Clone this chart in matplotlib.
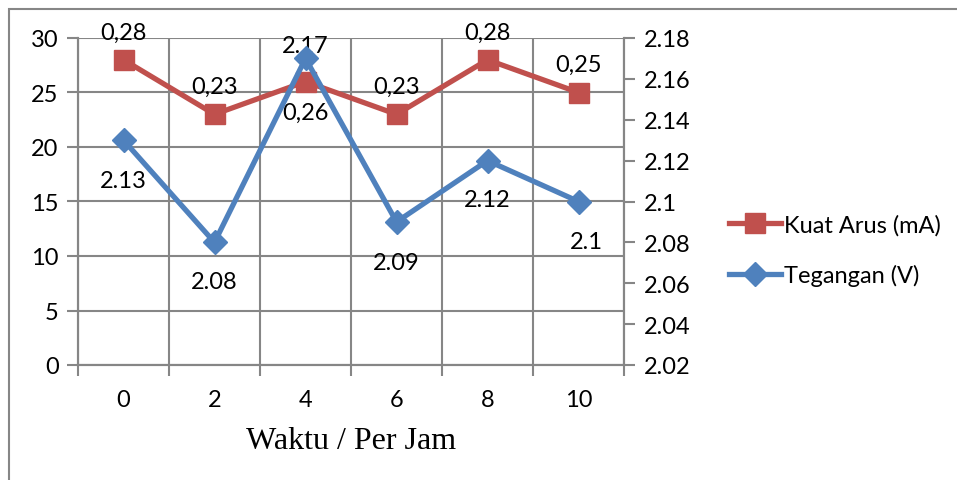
import matplotlib.pyplot as plt
from matplotlib.patches import Rectangle
from matplotlib.ticker import FuncFormatter, MultipleLocator

jam = ["0", "2", "4", "6", "8", "10"]
kuat_arus = [0.28, 0.23, 0.26, 0.23, 0.28, 0.25]   # mA
tegangan = [2.13, 2.08, 2.17, 2.09, 2.12, 2.10]    # V

merah = "#C0504D"
biru = "#4F81BD"
abu = "#868686"

plt.rcParams["font.family"] = ["Lato", "DejaVu Sans"]

fig = plt.figure(figsize=(9.57, 4.81), dpi=100)
fig.patches.append(Rectangle((9 / 957, -0.1), 1.2, 0.1 + 1 - 10 / 481,
                             transform=fig.transFigure, fill=False,
                             edgecolor=abu, linewidth=1.5))

ax1 = fig.add_axes([78 / 957, 1 - 366 / 481, (624 - 78) / 957, (366 - 39) / 481])
ax2 = ax1.twinx()

x = list(range(len(jam)))

# kuat arus on the left axis (ticks shown x100)
ax1.plot(x, kuat_arus, color=merah, linewidth=3.8, marker="s", markersize=14,
         label="Kuat Arus (mA)", zorder=3)
ax1.set_ylim(0, 0.30)
ax1.yaxis.set_major_locator(MultipleLocator(0.05))
ax1.yaxis.set_major_formatter(FuncFormatter(lambda v, p: f"{v * 100:.0f}"))
ax1.set_xlim(-0.5, len(jam) - 0.5)
ax1.set_xticks(x)
ax1.set_xticklabels(jam)
ax1.set_xticks([i - 0.5 for i in range(len(jam) + 1)], minor=True)
ax1.tick_params(axis="x", which="major", length=0, pad=17, labelsize=17)
ax1.tick_params(axis="x", which="minor", length=8, color=abu, width=1.5)
ax1.tick_params(axis="y", length=8, color=abu, width=1.5, labelsize=17, pad=6)
ax1.grid(True, axis="y", color=abu, linewidth=1.5)
ax1.grid(True, axis="x", which="minor", color=abu, linewidth=1.5)
ax1.set_axisbelow(True)
ax1.set_xlabel("Waktu / Per Jam", family="Liberation Serif", fontsize=23, labelpad=12)

# tegangan on the right axis
ax2.plot(x, tegangan, color=biru, linewidth=3.8, marker="D", markersize=12,
         label="Tegangan (V)", zorder=4)
ax2.set_ylim(2.02, 2.18)
ax2.yaxis.set_major_locator(MultipleLocator(0.02))
ax2.yaxis.set_major_formatter(FuncFormatter(lambda v, p: f"{v:g}"))
ax2.tick_params(axis="y", length=8, color=abu, width=1.5, labelsize=17, pad=6)

for a in (ax1, ax2):
    for s in a.spines.values():
        s.set_color(abu)
        s.set_linewidth(1.5)
    a.spines["top"].set_visible(False)

# data labels
arus_off = [20, 20, -22, 20, 20, 20]
for xi, v, dy in zip(x, kuat_arus, arus_off):
    ax1.annotate(f"{v:.2f}".replace(".", ","), (xi, v), xytext=(0, dy),
                 textcoords="offset points", ha="center", va="center", fontsize=17)

teg_off = [(0, -29), (0, -28), (0, 9), (0, -29), (0, -28), (6, -29)]
for xi, v, (dx, dy) in zip(x, tegangan, teg_off):
    ax2.annotate(f"{v:g}", (xi, v), xytext=(dx, dy),
                 textcoords="offset points", ha="center", va="center", fontsize=17)

h1, l1 = ax1.get_legend_handles_labels()
h2, l2 = ax2.get_legend_handles_labels()
fig.legend(h1 + h2, l1 + l2, loc="center left", bbox_to_anchor=(708 / 957, 1 - 251 / 481),
           frameon=False, fontsize=17, handlelength=2.2, handletextpad=0.1,
           labelspacing=1.2)

fig.savefig("out.png", dpi=100)
